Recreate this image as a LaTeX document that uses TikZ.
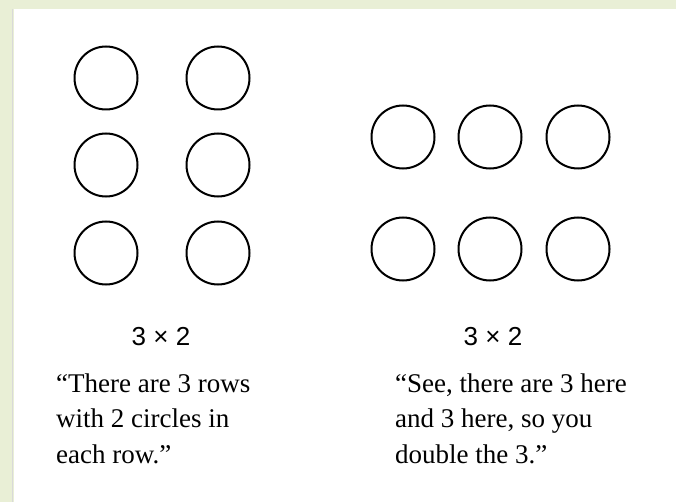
\documentclass[tikz,border=0pt]{standalone}
\usepackage{fontspec}
\setmainfont{Liberation Serif}
\newfontfamily\sansfont{Liberation Sans}
\definecolor{pagegreen}{HTML}{E9EFD6}
\begin{document}
\begin{tikzpicture}[x=1pt, y=-1pt,
    ring/.style={circle, draw, line width=2pt, minimum size=63pt, inner sep=0pt},
    product/.style={font=\sansfont\fontsize{26}{30}\selectfont, inner sep=0pt, anchor=base},
    saying/.style={font=\fontsize{27}{35.5}\selectfont, align=left, inner sep=0pt, anchor=base west}]
        % scanned page edge
        \fill[pagegreen] (0,0) rectangle (676,502);
        \fill[white] (14,9) rectangle (676,502);
        \draw[gray!30] (12,9) -- (12,502);
        % 3 rows of 2
        \node[ring] (a11) at (106, 78) {};
        \node[ring] (a12) at (218, 78) {};
        \node[ring] (a21) at (106, 165) {};
        \node[ring] (a22) at (218, 165) {};
        \node[ring] (a31) at (106, 253) {};
        \node[ring] (a32) at (218, 253) {};
        % 2 rows of 3
        \node[ring] (b11) at (403, 137) {};
        \node[ring] (b12) at (490, 137) {};
        \node[ring] (b13) at (578, 137) {};
        \node[ring] (b21) at (403, 249) {};
        \node[ring] (b22) at (490, 249) {};
        \node[ring] (b23) at (578, 249) {};
        % labels
        \node[product] (pa) at (161, 345) {3 × 2};
        \node[product] (pb) at (493, 345) {3 × 2};
        \node[saying] (sa) at (56, 463) {“There are 3 rows\\with 2 circles in\\each row.”};
        \node[saying] (sb) at (395, 463) {“See, there are 3 here\\and 3 here, so you\\double the 3.”};
    \end{tikzpicture}
\end{document}
